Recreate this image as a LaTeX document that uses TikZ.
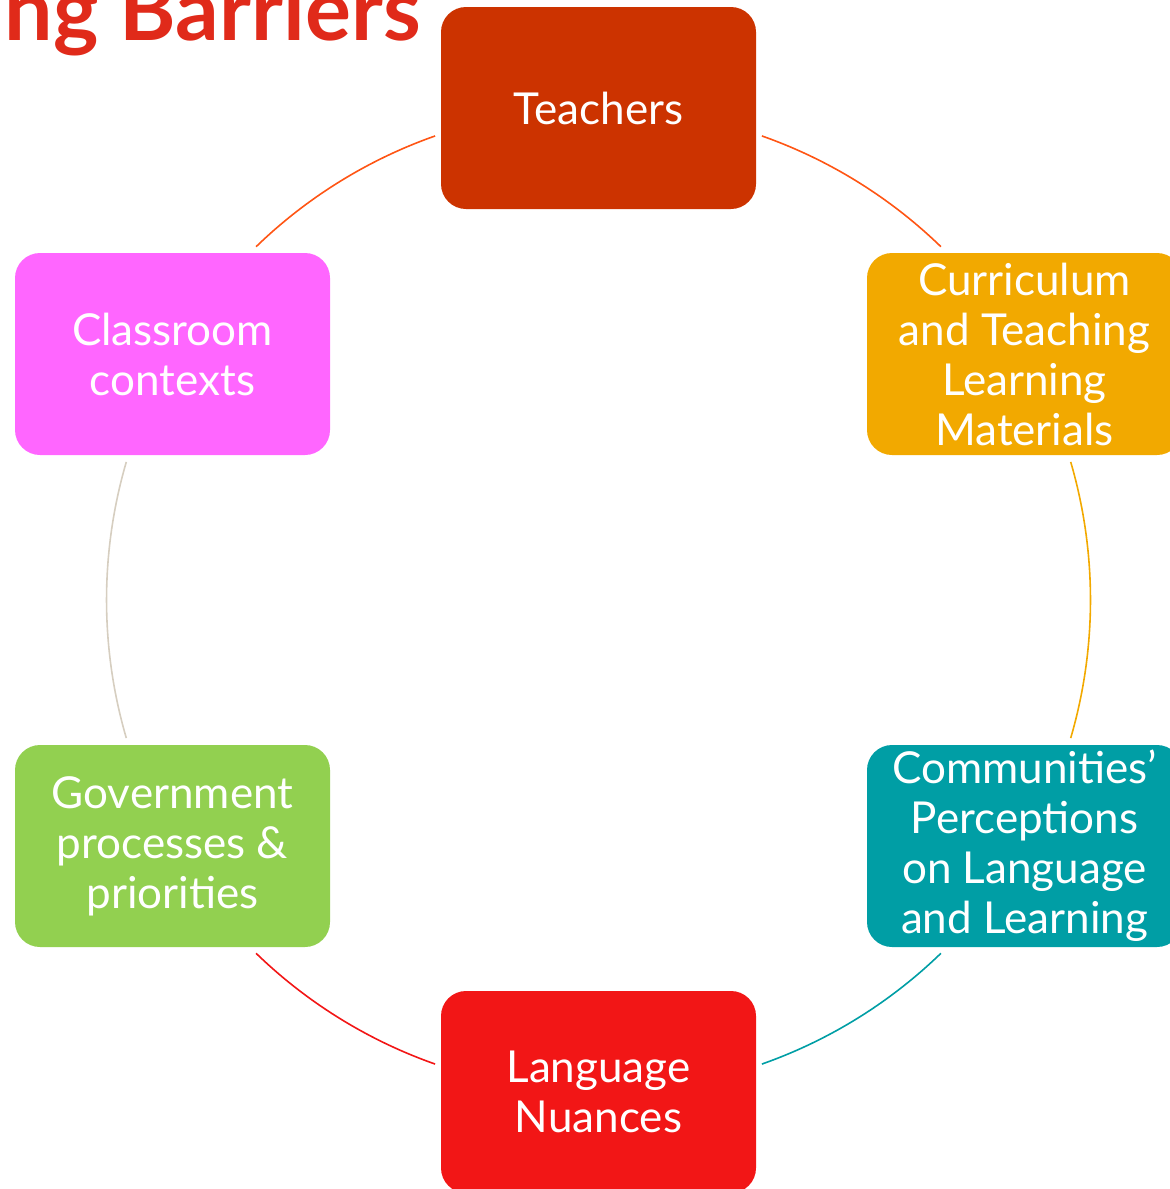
\documentclass[tikz,border=0pt]{standalone}
\usepackage{fontspec}
\setmainfont{Lato}
\usetikzlibrary{calc}
\definecolor{teachred}{HTML}{CC3300}
\definecolor{currorange}{HTML}{F2A900}
\definecolor{commteal}{HTML}{009EA5}
\definecolor{langred}{HTML}{F21616}
\definecolor{govgreen}{HTML}{92D050}
\definecolor{classpink}{HTML}{FF66FF}
\definecolor{linkorange}{HTML}{FF5514}
\definecolor{linkgrey}{HTML}{D6CEC0}
\definecolor{titlered}{HTML}{E02A1A}
\tikzset{barrier/.style={rounded corners=12.5pt, minimum width=157.5pt, minimum height=101pt,
    inner sep=0pt, text=white, align=center, font=\fontsize{22}{25}\selectfont},
  link/.style={line width=0.8pt}}

\begin{document}
\begin{tikzpicture}[x=0.5pt, y=-0.5pt]
  \useasboundingbox (0,0) rectangle (1170,1189);

  \node[anchor=base east, text=titlered, font=\bfseries\fontsize{43}{43}\selectfont] at (428,40) (title) {ng Barriers};

  \node[barrier, fill=teachred]   at (598.5,108)  (teach) {Teachers};
  \node[barrier, fill=currorange] at (1024.5,354) (curr)  {Curriculum\\and Teaching\\Learning\\Materials};
  \node[barrier, fill=commteal]   at (1024.5,846) (comm)  {Communities’\\Perceptions\\on Language\\and Learning};
  \node[barrier, fill=langred]    at (598.5,1092) (lang)  {Language\\Nuances};
  \node[barrier, fill=govgreen]   at (172.5,846)  (gov)   {Government\\processes \&\\priorities};
  \node[barrier, fill=classpink]  at (172.5,354)  (class) {Classroom\\contexts};

  % ring between the boxes
  \coordinate (ctr) at (598.5,600);
  \coordinate (teach-out) at ($(ctr)+(70.6:246pt)$);
  \coordinate (curr-out)  at ($(ctr)+(16.3:246pt)$);
  \coordinate (comm-out)  at ($(ctr)+(-45.9:246pt)$);
  \coordinate (lang-out)  at ($(ctr)+(-109.4:246pt)$);
  \coordinate (gov-out)   at ($(ctr)+(196.3:246pt)$);
  \coordinate (class-out) at ($(ctr)+(134.1:246pt)$);

  \draw[link, linkorange] (teach-out) arc[start angle=70.6,  end angle=45.9,   radius=246pt];
  \draw[link, currorange] (curr-out)  arc[start angle=16.3,  end angle=-16.3,  radius=246pt];
  \draw[link, commteal]   (comm-out)  arc[start angle=-45.9, end angle=-70.6,  radius=246pt];
  \draw[link, langred]    (lang-out)  arc[start angle=-109.4,end angle=-134.1, radius=246pt];
  \draw[link, linkgrey]   (gov-out)   arc[start angle=196.3, end angle=163.7,  radius=246pt];
  \draw[link, linkorange] (class-out) arc[start angle=134.1, end angle=109.4,  radius=246pt];
\end{tikzpicture}
\end{document}
